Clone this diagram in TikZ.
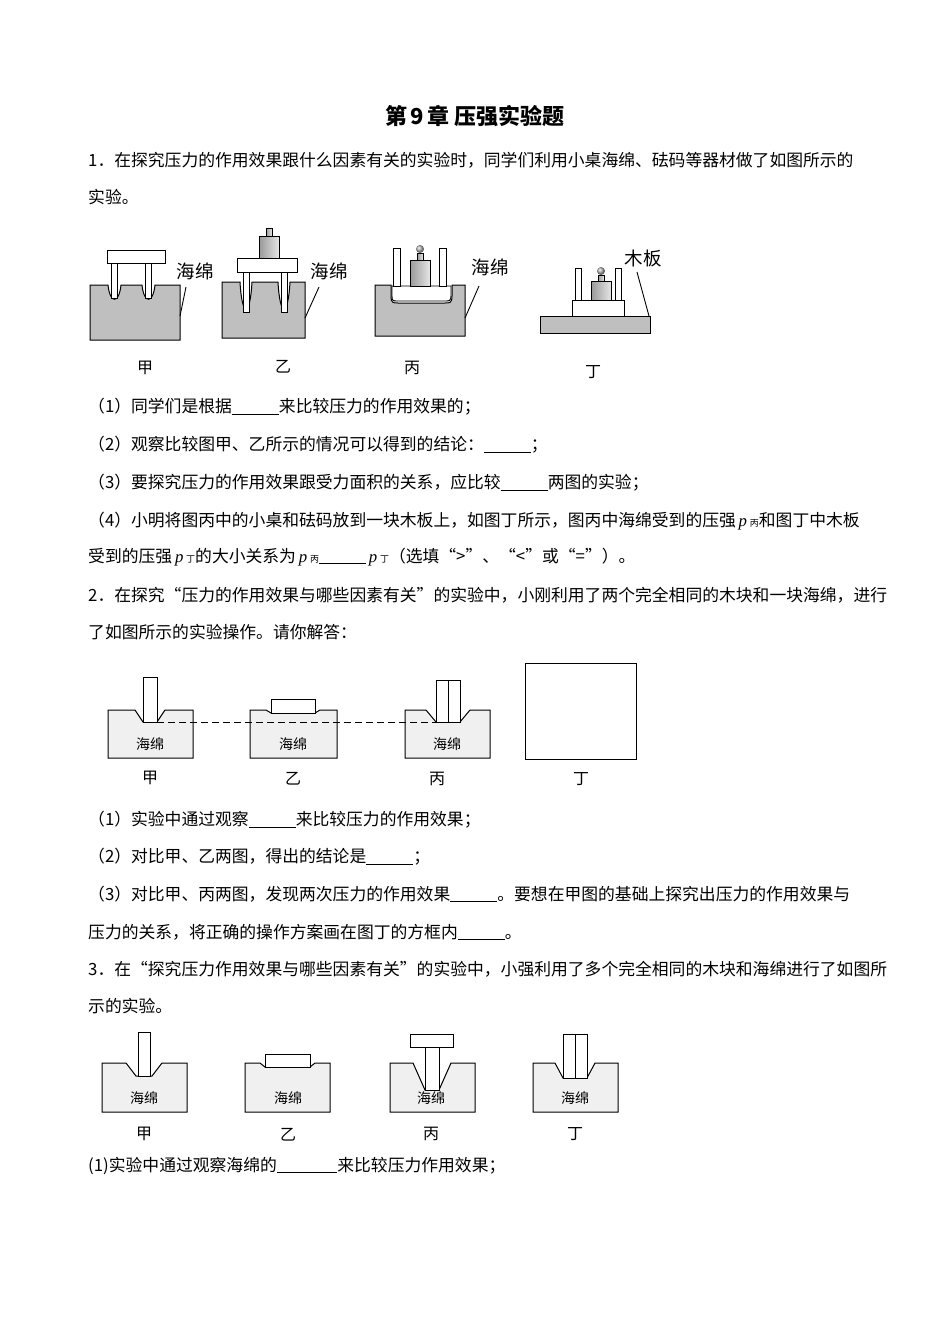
\documentclass[tikz,border=0pt]{standalone}
\usepackage{fontspec}
\setmainfont{Noto Sans CJK SC}
\newfontfamily\serif{Liberation Serif}
\newcommand{\blank}[1][2.8em]{\rule[-1.5pt]{#1}{0.5pt}}
\newcommand{\pv}[1]{{\serif\itshape p}\,{\fontsize{9}{9}\selectfont #1}}
\begin{document}
\begin{tikzpicture}[x=1pt,y=-1pt,
  txt/.style={anchor=west,inner sep=0pt,font=\fontsize{16.8}{20}\selectfont},
  lab/.style={inner sep=0pt,font=\fontsize{16}{18}\selectfont},
  big/.style={inner sep=0pt,font=\fontsize{18.5}{20}\selectfont},
  sp1/.style={draw,fill=gray!50,line width=1pt},
  sp2/.style={draw,fill=gray!12,line width=1pt},
  wh/.style={draw,fill=white,line width=0.9pt},
  wt/.style={draw,line width=0.8pt,left color=gray!80,right color=gray!20,middle color=gray!50}]
\useasboundingbox (0,0) rectangle (950,1344);
\node[lab,font=\bfseries\fontsize{22}{26}\selectfont] (title) at (475,116) {第\,9\,章\ 压强实验题};
\node[txt] (l1) at (88,160) {1．在探究压力的作用效果跟什么因素有关的实验时，同学们利用小桌海绵、砝码等器材做了如图所示的};
\node[txt] (l2) at (88,197) {实验。};
% fig1 甲
\draw[sp1] (90,285) -- (108,285) .. controls (110,304) and (119,304) .. (121,285) -- (142,285) .. controls (144,304) and (153,304) .. (155,285) -- (180,285) -- (180,340) -- (90,340) -- cycle;
\draw[wh] (111,263) rectangle (117,298); \draw[wh] (145,263) rectangle (151,298);
\draw[wh] (107,250) rectangle (165,263);
\node[big] (s1) at (195,271) {海绵}; \coordinate (c1) at (180,316);
\draw[line width=0.9pt] (186,287) -- (c1);
% 乙
\draw[sp1] (222,282) -- (240,282) .. controls (242,318) and (250,318) .. (252,282) -- (278,282) .. controls (280,318) and (288,318) .. (290,282) -- (305,282) -- (305,338) -- (222,338) -- cycle;
\draw[wh] (243,272) rectangle (249,312); \draw[wh] (281,272) rectangle (287,312);
\draw[wh] (237,258) rectangle (297,272);
\draw[wt] (259,236) rectangle (279,258); \draw[wt] (266,228) rectangle (272,236);
\node[big] (s2) at (329,271) {海绵}; \draw[line width=0.9pt] (319,287) -- (305,318);
% 丙
\draw[sp1] (375,285) -- (391,285) -- (391,296) .. controls (391,303) and (393,303) .. (398,303) -- (445,303) .. controls (450,303) and (452,303) .. (452,296) -- (452,285) -- (465,285) -- (465,336) -- (375,336) -- cycle;
\draw[wh] (392,286) -- (451,286) -- (451,296) .. controls (451,301) and (449,301) .. (445,301) -- (398,301) .. controls (393,301) and (392,301) .. (392,296) -- cycle;
\draw[wh] (393,248) rectangle (400,286); \draw[wh] (439,248) rectangle (446,286);
\draw[wt] (410,260) rectangle (430,286); \draw[wt] (417,253) rectangle (423,260);
\shade[ball color=gray!60] (420,249) circle (4);
\node[big] (s3) at (490,267) {海绵}; \draw[line width=0.9pt] (479,286) -- (465,318);
% 丁
\draw[sp1] (540,316) rectangle (650,333);
\draw[wh] (572,300) rectangle (624,316);
\draw[wh] (575,268) rectangle (581,300); \draw[wh] (615,268) rectangle (621,300);
\draw[wt] (591,281) rectangle (611,300); \draw[wt] (598,275) rectangle (604,281);
\shade[ball color=gray!60] (601,271) circle (4);
\node[big] (s4) at (643,258) {木板}; \draw[line width=0.9pt] (637,272) -- (649,316);
\node[lab] (f1a) at (145,368) {甲}; \node[lab] (f1b) at (283,367) {乙};
\node[lab] (f1c) at (412,368) {丙}; \node[lab] (f1d) at (593,372) {丁};
\node[txt] (q1) at (88,407) {（1）同学们是根据\blank 来比较压力的作用效果的；};
\node[txt] (q2) at (88,445) {（2）观察比较图甲、乙所示的情况可以得到的结论：\blank；};
\node[txt] (q3) at (88,483) {（3）要探究压力的作用效果跟受力面积的关系，应比较\blank 两图的实验；};
\node[txt] (q4) at (88,521) {（4）小明将图丙中的小桌和砝码放到一块木板上，如图丁所示，图丙中海绵受到的压强\,\pv{丙}和图丁中木板};
\node[txt] (q4b) at (88,557) {受到的压强\,\pv{丁}的大小关系为\,\pv{丙}\blank\,\pv{丁}（选填“>”、“<”或“=”）。};
\node[txt] (l3) at (88,595) {2．在探究“压力的作用效果与哪些因素有关”的实验中，小刚利用了两个完全相同的木块和一块海绵，进行};
\node[txt] (l4) at (88,632) {了如图所示的实验操作。请你解答：};
% fig2
\draw[sp2] (108,710) -- (135,710) -- (143,722) -- (157,722) -- (165,710) -- (193,710) -- (193,758) -- (108,758) -- cycle;
\draw[wh] (143,677) rectangle (157,722);
\draw[sp2] (250,710) -- (266,710) -- (271,713) -- (315,713) -- (320,710) -- (337,710) -- (337,758) -- (250,758) -- cycle;
\draw[wh] (271,699) rectangle (315,713);
\draw[sp2] (405,710) -- (426,710) -- (436,722) -- (460,722) -- (470,710) -- (490,710) -- (490,758) -- (405,758) -- cycle;
\draw[wh] (436,680) rectangle (448,722); \draw[wh] (448,680) rectangle (460,722);
\draw[line width=0.9pt,dash pattern=on 7pt off 4pt] (157,722) -- (436,722);
\draw[line width=1pt] (525,663) rectangle (636,759);
\node[lab,font=\fontsize{14}{15}\selectfont] at (150,744) {海绵};
\node[lab,font=\fontsize{14}{15}\selectfont] at (293,744) {海绵};
\node[lab,font=\fontsize{14}{15}\selectfont] at (447,744) {海绵};
\node[lab] at (150,778) {甲}; \node[lab] at (293,779) {乙};
\node[lab] at (437,779) {丙}; \node[lab] at (581,779) {丁};
\node[txt] at (88,820) {（1）实验中通过观察\blank 来比较压力的作用效果；};
\node[txt] at (88,857) {（2）对比甲、乙两图，得出的结论是\blank；};
\node[txt] at (88,894) {（3）对比甲、丙两图，发现两次压力的作用效果\blank。要想在甲图的基础上探究出压力的作用效果与};
\node[txt] at (88,932) {压力的关系，将正确的操作方案画在图丁的方框内\blank。};
\node[txt] at (88,969) {3．在“探究压力作用效果与哪些因素有关”的实验中，小强利用了多个完全相同的木块和海绵进行了如图所};
\node[txt] at (88,1006) {示的实验。};
% fig3
\draw[sp2] (102,1063) -- (126,1063) -- (136,1076) -- (152,1076) -- (162,1063) -- (187,1063) -- (187,1112) -- (102,1112) -- cycle;
\draw[wh] (138,1032) rectangle (150,1076);
\draw[sp2] (245,1063) -- (260,1063) -- (265,1067) -- (310,1067) -- (315,1063) -- (330,1063) -- (330,1112) -- (245,1112) -- cycle;
\draw[wh] (265,1054) rectangle (310,1067);
\draw[sp2] (390,1063) -- (413,1063) -- (425,1090) -- (439,1090) -- (451,1063) -- (475,1063) -- (475,1112) -- (390,1112) -- cycle;
\draw[wh] (425,1047) rectangle (439,1090); \draw[wh] (410,1034) rectangle (453,1047);
\draw[sp2] (533,1063) -- (555,1063) -- (563,1078) -- (587,1078) -- (595,1063) -- (618,1063) -- (618,1112) -- (533,1112) -- cycle;
\draw[wh] (563,1034) rectangle (575,1078); \draw[wh] (575,1034) rectangle (587,1078);
\foreach \x in {144,288,431,575} \node[lab,font=\fontsize{14}{15}\selectfont] at (\x,1098) {海绵};
\node[lab] at (144,1134) {甲}; \node[lab] at (288,1135) {乙};
\node[lab] at (431,1134) {丙}; \node[lab] at (575,1134) {丁};
\node[txt] at (88,1166) {(1)实验中通过观察海绵的\blank[3.6em]来比较压力作用效果；};
\end{tikzpicture}
\end{document}
